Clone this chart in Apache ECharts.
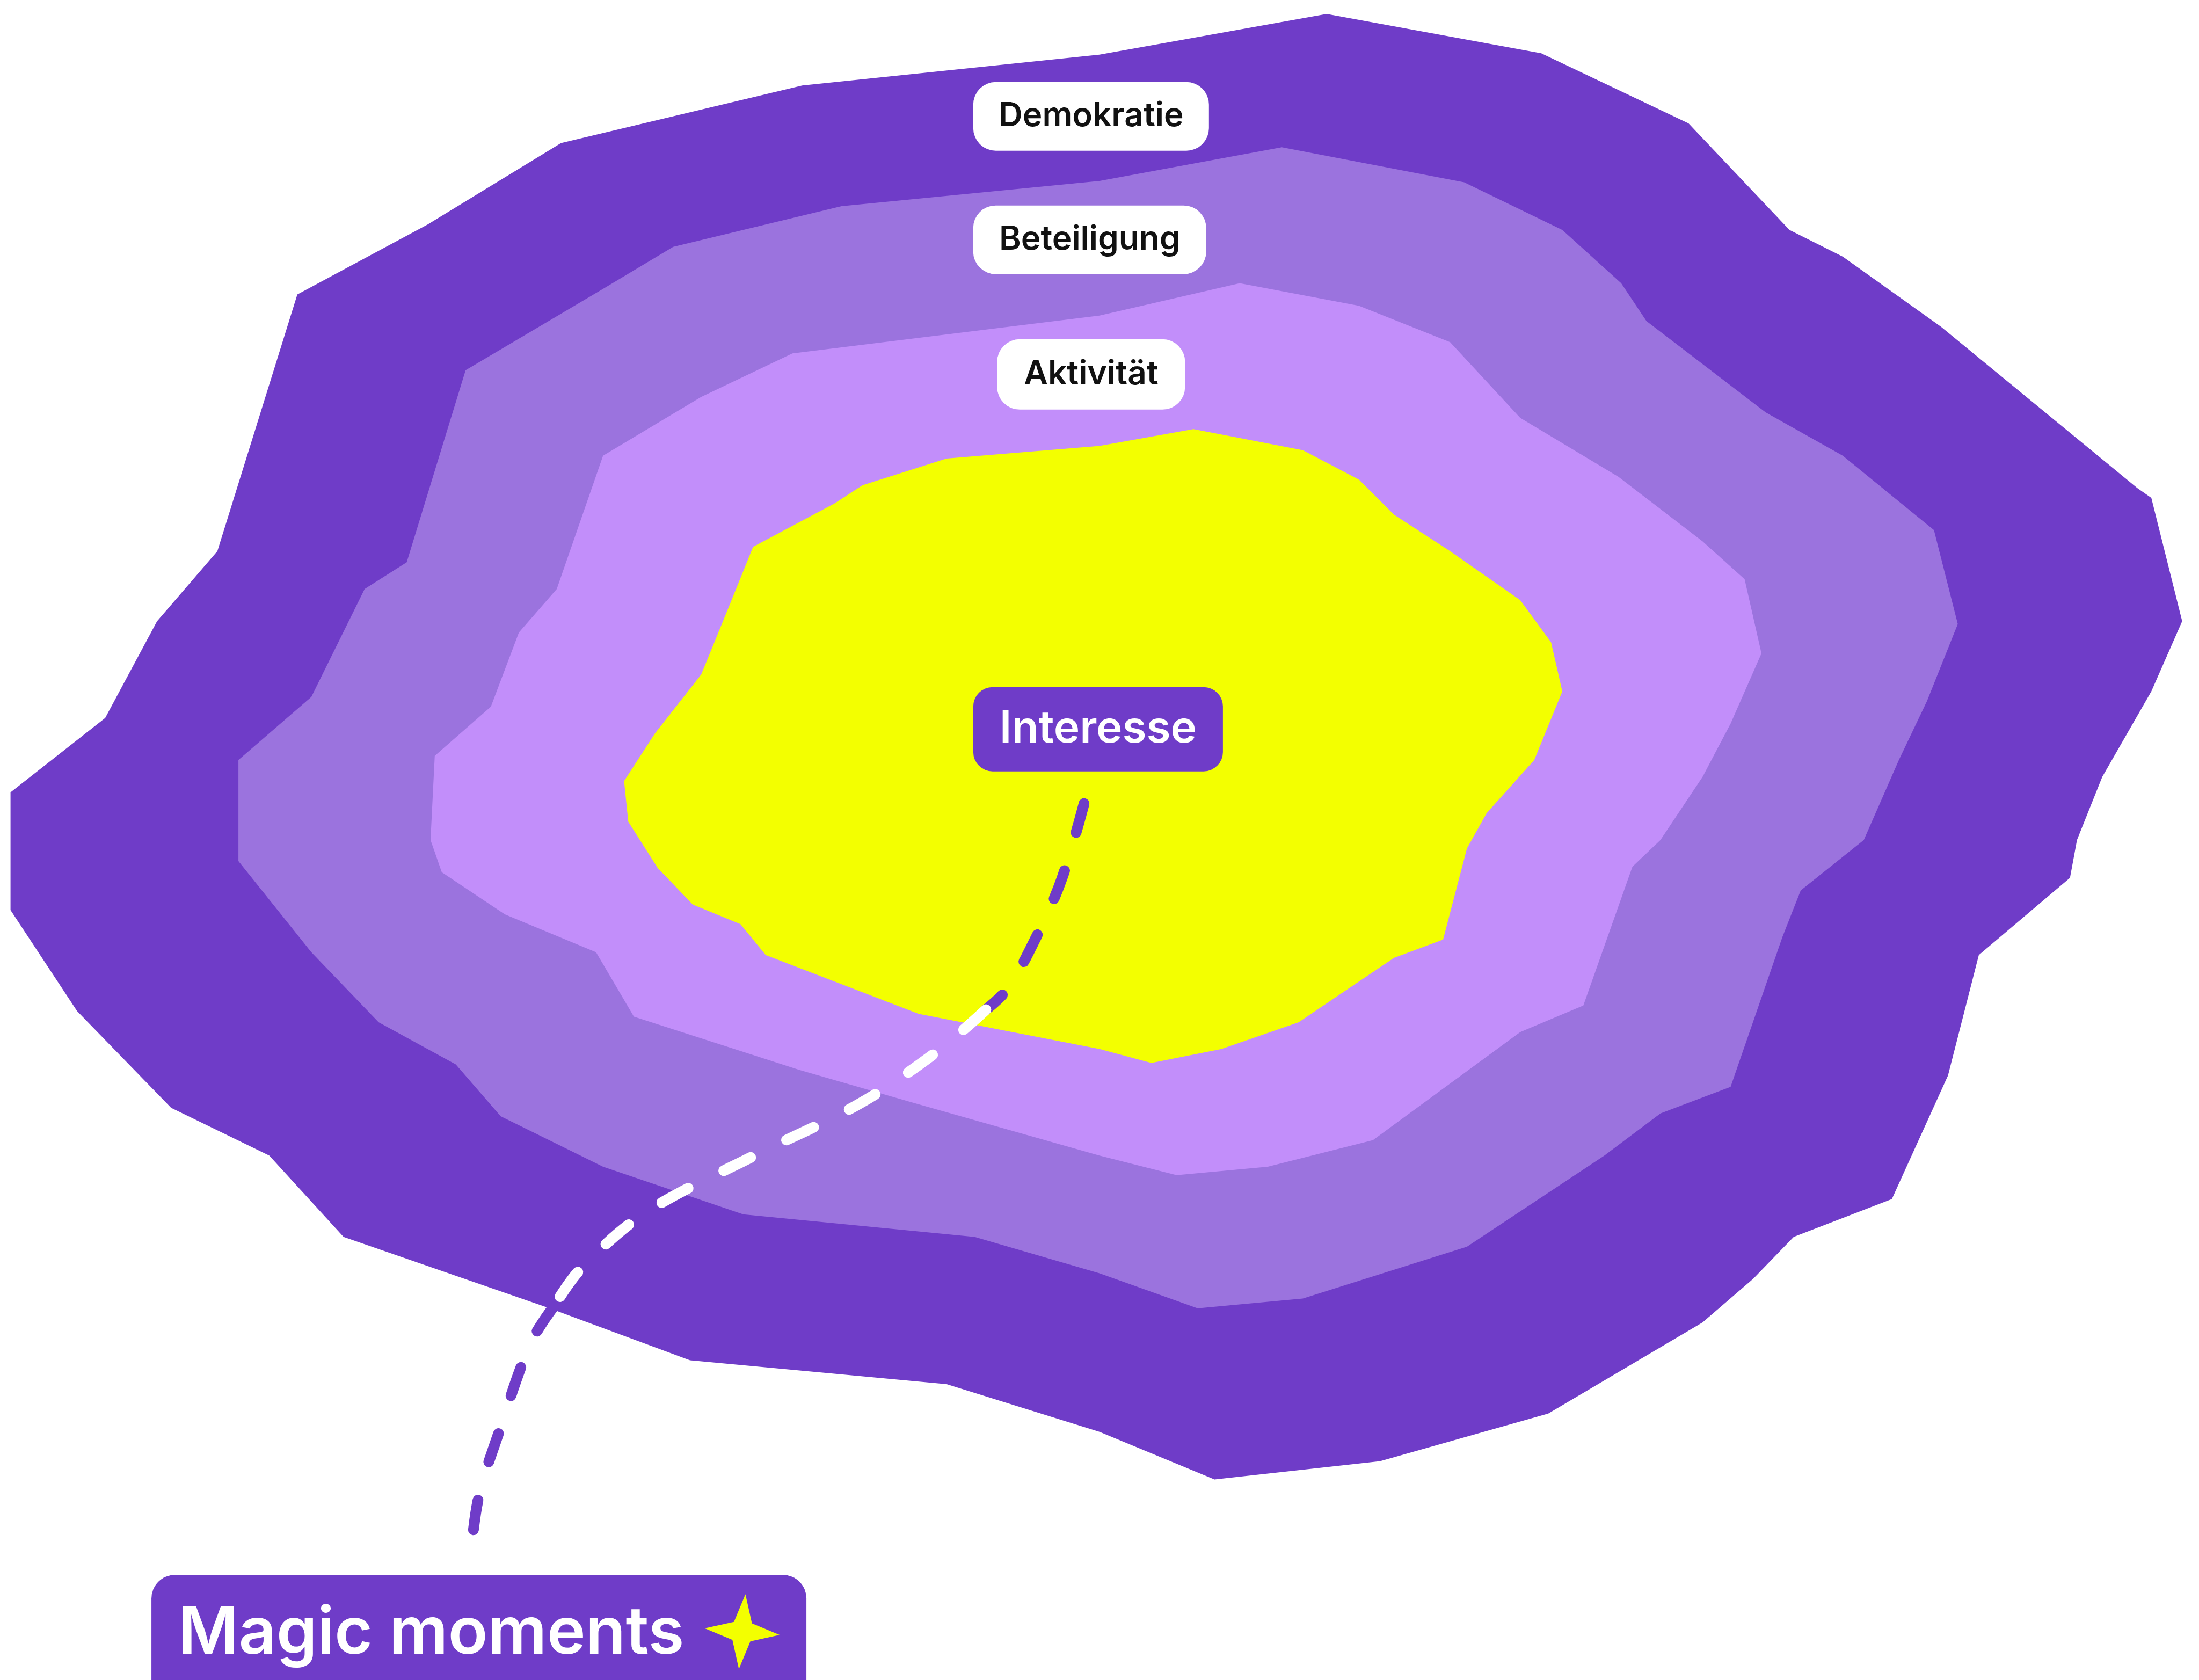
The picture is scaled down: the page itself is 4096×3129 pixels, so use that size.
<!DOCTYPE html>
<html><head><meta charset="utf-8">
<script src="https://cdn.jsdelivr.net/npm/echarts@6/dist/echarts.min.js"></script>
<style>html,body{margin:0;padding:0;background:#fff}#c{width:4096px;height:3129px}</style>
</head><body><div id="c"></div>
<script>
// Ring outlines (x, y in reference units, 1568 x 1198 canvas, y downwards)
const ringDemokratie = [[400,102],[572,61],[784,39],[946,10],[1099,38],[1204,88],[1276,164],[1314,183],[1384,233],[1524,348],[1534,355],[1556,443],[1534,493],[1499,554],[1481,599],[1476,626],[1411,681],[1389,767],[1349,855],[1279,882],[1250,912],[1214,943],[1104,1008],[984,1042],[866,1055],[784,1021],[675,987],[492,970],[392,933],[245,882],[192,824],[122,790],[55,721],[7.5,649],[7.5,565],[75,512],[112,443],[155,393],[212,210],[305,160]];
const ringBeteiligung = [[430,206],[480,176],[600,147],[784,129],[914,105],[1044,130],[1114,164],[1156,202],[1174,229],[1259,294],[1314,325],[1379,378],[1396,445],[1374,500],[1354,542],[1329,599],[1284,635],[1271,668],[1234,775],[1184,794],[1144,824],[1046,889],[929,926],[854,933],[784,908],[695,882],[530,866],[430,832],[357,796],[325,759],[270,729],[222,679],[170,614],[170,542],[222,497],[260,420],[290,401],[332,264]];
const ringAktivitaet = [[430,325],[500,283],[565,252],[784,225],[884,202],[969,218],[1034,244],[1084,298],[1154,340],[1214,386],[1244,413],[1256,466],[1234,516],[1214,554],[1184,599],[1164,618],[1129,717],[1084,736],[979,813],[904,832],[839,838],[784,824],[650,786],[570,763],[452,725],[425,679],[360,652],[315,622],[307,599],[310,539],[350,504],[370,451],[397,420]];
const ringInteresse = [[537,390],[595,359],[615,346],[675,327],[784,318],[851,306],[929,321],[969,342],[994,367],[1034,393],[1084,428],[1106,458],[1114,493],[1094,542],[1060,580],[1046,605],[1029,670],[994,683],[926,729],[871,748],[821,758],[784,748],[655,723],[546,681],[528,659],[494,645],[469,619],[448,586],[445,557],[467,523],[500,481],[520,432]];

// Dashed connector, split where it crosses the ring boundaries
const pathOverYellow = [[773,573],[757,627],[739,668],[718.5,705],[703,720]];
const pathOverRings = [[703,720],[668,750],[612,787.5],[538,824],[460,865],[414,905],[395,931.5]];
const pathOverWhite = [[395,931.5],[378.5,957.5],[356,1020.6],[341,1069],[335,1117]];

// Labels
const labelTexts = ['Demokratie', 'Beteiligung', 'Aktivität', 'Interesse', 'Magic moments'];
const labelAnchors = [[778,83],[777,171],[778,267],[783,520],[341.5,1172.8]];
const starPoint = [[529.2,1163.5]];

const rings = [ringDemokratie, ringBeteiligung, ringAktivitaet, ringInteresse];
const ringColors = ['#6f3cc8', '#9b73de', '#c28efa', '#f3ff00'];
const PURPLE = '#6f3cc8';
const pillStyles = [
  {w:439, h:128, r:42, fill:'#ffffff', color:'#111111', size:62, weight:600},
  {w:434, h:128, r:42, fill:'#ffffff', color:'#111111', size:62, weight:600},
  {w:350, h:131, r:42, fill:'#ffffff', color:'#111111', size:62, weight:600},
  {w:465, h:157, r:36, fill:PURPLE, color:'#ffffff', size:82, weight:600},
  {w:1220, h:260, r:44, fill:PURPLE, color:'#ffffff', size:122, weight:600, left:50, dy:-20}
];

const chart = echarts.init(document.getElementById('c'), null, {renderer:'canvas'});

function dashSeries(data, color) {
  return {
    type: 'line', data: data, smooth: 0.35, showSymbol: false, silent: true, z: 5,
    lineStyle: {color: color, width: 20, type: [56, 74], cap: 'round', join: 'round'}
  };
}

chart.setOption({
  animation: false,
  backgroundColor: '#ffffff',
  grid: {left: 0, right: 0, top: 0, bottom: 0},
  xAxis: {type: 'value', min: 0, max: 1568, show: false},
  yAxis: {type: 'value', min: 0, max: 1198, inverse: true, show: false},
  series: [
    {
      type: 'custom', coordinateSystem: 'cartesian2d', silent: true, z: 1,
      data: rings.map((r, i) => [r[0][0], r[0][1], i]),
      renderItem: function (params, api) {
        const i = params.dataIndex;
        return {
          type: 'polygon',
          shape: {points: rings[i].map(p => api.coord(p))},
          style: {fill: ringColors[i]}
        };
      }
    },
    dashSeries(pathOverYellow, PURPLE),
    dashSeries(pathOverRings, '#ffffff'),
    dashSeries(pathOverWhite, PURPLE),
    {
      type: 'custom', coordinateSystem: 'cartesian2d', silent: true, z: 10,
      data: labelAnchors.map((p, i) => [p[0], p[1], i]),
      renderItem: function (params, api) {
        const i = params.dataIndex;
        const s = pillStyles[i];
        const c = api.coord(labelAnchors[i]);
        const left = c[0] - s.w / 2, top = c[1] - s.h / 2;
        return {
          type: 'group',
          children: [
            {type: 'rect', shape: {x: left, y: top, width: s.w, height: s.h, r: s.r}, style: {fill: s.fill}},
            {type: 'text', style: {
              text: labelTexts[i],
              x: s.left ? left + s.left : c[0],
              y: c[1] + (s.dy || 0),
              align: s.left ? 'left' : 'center',
              verticalAlign: 'middle',
              fill: s.color,
              font: s.weight + ' ' + s.size + 'px Inter, "Noto Sans", sans-serif'
            }}
          ]
        };
      }
    },
    {
      type: 'scatter', data: starPoint, silent: true, z: 20,
      symbol: 'path://M50,0 L62,38 L100,50 L62,62 L50,100 L38,62 L0,50 L38,38 Z',
      symbolSize: 140, symbolRotate: -5,
      itemStyle: {color: '#f3ff00', opacity: 1}
    }
  ]
});
</script>
</body></html>
